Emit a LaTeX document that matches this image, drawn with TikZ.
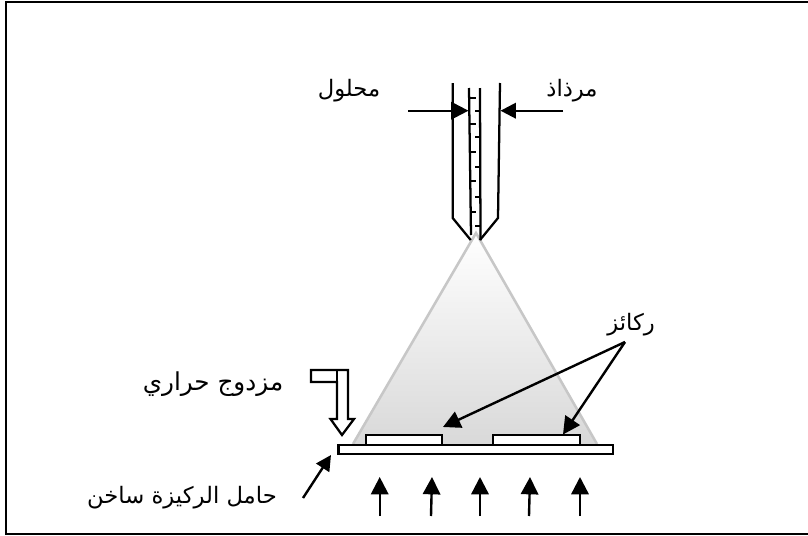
\documentclass[tikz,border=0pt]{standalone}
\usepackage{fontspec}
\newfontfamily\arabicfont[Script=Arabic]{DejaVu Sans}
\TeXXeTstate=1
\usetikzlibrary{arrows.meta}
\tikzset{
  ln/.style={draw=black,line width=1.7pt},
  ticks/.style={draw=black,line width=1.5pt},
  frame/.style={draw=black,line width=1.5pt},
  plate/.style={draw=black,fill=white,line width=1.7pt},
  bigtip/.style={-{Triangle[length=13pt,width=13pt]},line width=1.8pt},
  medtip/.style={-{Triangle[length=11.5pt,width=11.5pt]},line width=1.8pt},
  lab/.style={font=\arabicfont\fontsize{17}{20}\selectfont,inner sep=0pt,text=black},
  labwide/.style={font=\arabicfont\fontsize{18.5}{22}\selectfont,inner sep=0pt,text=black}
}
\begin{document}
\begin{tikzpicture}[x=0.75pt,y=-0.75pt]
\useasboundingbox (0,0) rectangle (808,536);
\begin{scope}
\clip (0,0) rectangle (808,536);
\draw[frame] (5.5,2) rectangle (815,533.5);
\end{scope}
% spray cone
\shade[top color=white,bottom color=black!15,draw=none] (476,233) -- (597,444) -- (353,444) -- cycle;
\draw[draw=black!22,line width=1.9pt] (353,444) -- (476,233) -- (597,444);
% nozzle
\coordinate (wl0) at (452.7,83); \coordinate (wl1) at (452.7,218); \coordinate (wl2) at (470.7,240);
\coordinate (wr0) at (500,83); \coordinate (wr1) at (498,218); \coordinate (wr2) at (480,240);
\draw[ln] (wl0) -- (wl1) -- (wl2);
\draw[ln] (wr0) -- (wr1) -- (wr2);
\draw[ln] (469,88) -- (471,235);
\draw[ln] (480,88) -- (480.5,240);
\foreach \y in {97.7,124,151.7,180.7,211.7}{\draw[ticks] (470,\y) -- (476,\y);}
\foreach \y in {110.7,137.3,166.7,196.7,226}{\draw[ticks] (475,\y) -- (480,\y);}
% plates
\draw[plate] (338.5,444.7) rectangle (612.7,454);
\draw[plate] (365.7,435) rectangle (442,444.7);
\draw[plate] (492.7,435) rectangle (580,444.7);
% named anchors
\coordinate (solL) at (408,110.7); \coordinate (solT) at (468.5,110.7);
\coordinate (nozR) at (563,110.7); \coordinate (nozT) at (500.5,110.7);
\coordinate (crys) at (625,342); \coordinate (c1) at (443,427); \coordinate (c2) at (563,434.5);
\coordinate (subS) at (303,498); \coordinate (subT) at (331,455);
\draw[bigtip] (solL) -- (solT);
\draw[medtip] (nozR) -- (nozT);
\draw[bigtip] (crys) -- (c1);
\draw[bigtip] (crys) -- (c2);
\draw[medtip] (subS) -- (subT);
\foreach \a/\b in {379.7/379.7,431/432,480/480,529/530,580/580}{\draw[bigtip] (\a,516) -- (\b,477);}
% thermocouple
\draw[draw=black,fill=white,line width=1.7pt] (337,370) -- (348,370) -- (348,419) -- (354,419) -- (342,435) -- (330.5,419) -- (337,419) -- (337,382) -- (311,382) -- (311,370) -- cycle;
\draw[draw=black,line width=1.7pt] (337,370) -- (337,382);
% labels
\node[lab] (l1) at (349,91) {\beginR محلول\endR};
\node[lab] (l2) at (572,91) {\beginR مرذاذ\endR};
\node[lab] (l3) at (631,325) {\beginR ركائز\endR};
\node[labwide] (l4) at (213,384) {\beginR مزدوج حراري\endR};
\node[lab] (l5) at (182,498) {\beginR حامل الركيزة ساخن\endR};
\end{tikzpicture}
\end{document}
